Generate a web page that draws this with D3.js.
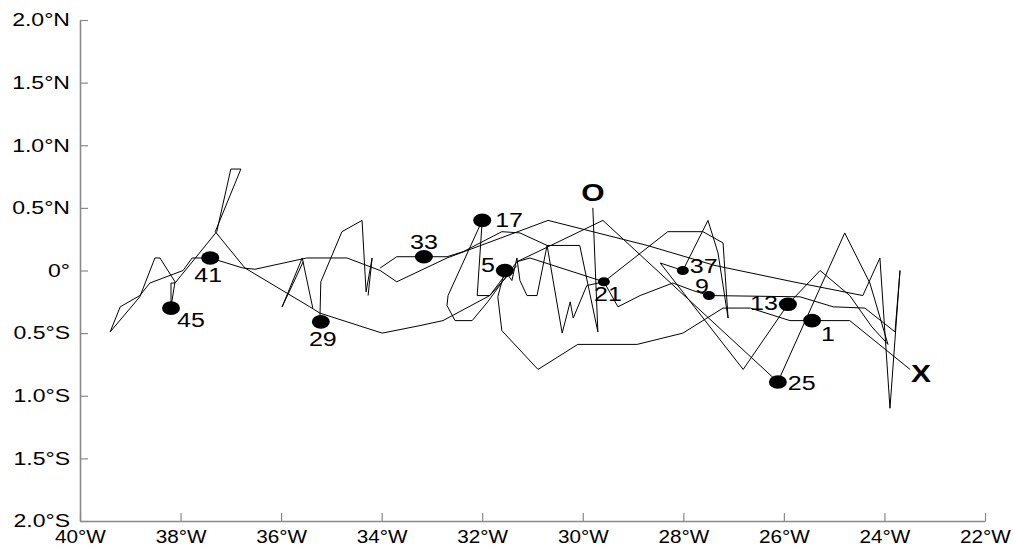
<!DOCTYPE html>
<html>
<head>
<meta charset="utf-8">
<script src="https://cdn.jsdelivr.net/npm/d3@7"></script>
<style>
  body { margin: 0; background: #fff; }
  svg { display: block; font-family: "Liberation Sans", Arial, Helvetica, sans-serif; }
</style>
</head>
<body>
<div id="chart"></div>
<script>
// drifter track, lon (deg E) / lat (deg N); null = pen up between traced pieces
const trackLon = [
  -23.49, -24.69, -25.44, -25.88, -26.67, -27.21, -28.01, -28.92, -30.10, -30.89, -31.61, -31.69,
  -31.55, -31.41, -31.31, -31.25, -31.11, -30.91, -30.71, -30.06, -29.70, -29.80, null,
  -30.71, -30.41, -30.25, -30.19, -29.92, -29.58, -28.31, -27.61, -27.21, -27.11, -27.31, -27.51,
  -28.01, -28.46, -26.81, -25.92, -25.28, -24.69, -24.25, -23.93, -24.29, -24.79, -26.12, -29.60,
  -31.31, null,
  -30.69, -28.72, -27.37, -25.82, -24.43, -24.09, -23.89, -23.69, -23.79, -24.39, -25.02, -25.68,
  -27.49, -27.81, -28.21, -28.86, -29.30, -29.58, -31.05, -31.31, null,
  -30.69, -32.70, -33.70, -34.03, -34.69, -35.49, -36.52, -36.76, -37.41, -37.77, -37.95, -38.61,
  -38.81, -39.20, -39.40, -38.81, -38.51, -38.41, -38.11, -38.19, -38.19, -38.11, -37.28, -37.00,
  -36.80, -37.31, -36.72, -35.43, -35.23, -33.99, -33.24, -32.78, -31.85, -31.31, null,
  -35.37, -35.58, -35.98, -35.56, null,
  -35.23, -35.21, -34.79, -34.39, -34.31, -34.19, -34.27, null,
  -34.03, -33.70, -33.16, -32.70, -32.38, -31.61, -31.25, -30.71, null,
  -31.55, -31.85, -32.10, -32.00, -32.68, -32.70, -32.54, -32.20, -31.89, -31.31
];
const trackLat = [
  -0.79, -0.40, -0.40, -0.40, -0.30, -0.30, -0.50, -0.59, -0.59, -0.79, -0.48, -0.21,
  0.00, -0.08, 0.10, -0.08, -0.20, -0.20, 0.20, 0.20, -0.49, 0.50, null,
  0.20, -0.50, -0.25, -0.38, -0.12, -0.09, 0.31, 0.31, 0.22, -0.38, 0.14, 0.40,
  0.00, 0.06, -0.79, -0.27, 0.00, -0.20, -0.45, -0.59, -0.10, 0.30, -0.89, 0.40,
  0.07, null,
  0.40, 0.20, 0.04, -0.09, -0.20, 0.10, -1.10, 0.00, -0.49, -0.30, -0.29, -0.21,
  -0.20, -0.16, -0.10, -0.20, -0.29, -0.09, 0.10, 0.07, null,
  0.40, 0.10, -0.09, 0.00, 0.10, 0.10, 0.01, 0.02, 0.10, 0.10, 0.00, -0.10,
  -0.20, -0.29, -0.49, -0.21, 0.10, 0.10, -0.09, -0.29, -0.10, -0.10, 0.31, 0.81,
  0.81, 0.31, 0.02, -0.29, -0.34, -0.50, -0.44, -0.40, -0.20, 0.04, null,
  -0.30, 0.10, -0.29, 0.07, null,
  -0.41, -0.09, 0.31, 0.40, -0.17, 0.10, -0.20, null,
  0.02, 0.11, 0.11, 0.11, 0.15, 0.31, 0.30, 0.20, null,
  -0.04, -0.20, -0.20, 0.40, -0.20, -0.28, -0.40, -0.40, -0.25, 0.07
];

// every 4th position is marked and numbered
const markerLabels = ["1", "5", "9", "13", "17", "21", "25", "29", "33", "37", "41", "45"];
const markerLon = [-25.44, -31.55, -27.49, -25.92, -32.00, -29.58, -26.12, -35.21, -33.16, -28.01, -37.41, -38.19];
const markerLat = [-0.40, 0.00, -0.20, -0.27, 0.40, -0.09, -0.89, -0.41, 0.11, 0.00, 0.10, -0.30];

// ends of the track
const endLabels = ["O", "X"];
const endLon = [-29.80, -23.49];
const endLat = [0.50, -0.79];

const xTicks = [-40, -38, -36, -34, -32, -30, -28, -26, -24, -22];
const xTickLabels = ["40°W", "38°W", "36°W", "34°W", "32°W", "30°W", "28°W", "26°W", "24°W", "22°W"];
const yTicks = [-2, -1.5, -1, -0.5, 0, 0.5, 1, 1.5, 2];
const yTickLabels = ["2.0°S", "1.5°S", "1.0°S", "0.5°S", "0°", "0.5°N", "1.0°N", "1.5°N", "2.0°N"];

// label placement around each marker (style only)
var labelPos = {
  "1":  {dx: 9,   dy: 20, anchor: "start"},
  "5":  {dx: -10, dy: 1,  anchor: "end"},
  "9":  {dx: -7,  dy: -3, anchor: "middle"},
  "13": {dx: -10, dy: 6,  anchor: "end"},
  "17": {dx: 13,  dy: 7,  anchor: "start"},
  "21": {dx: 4,   dy: 19, anchor: "middle"},
  "25": {dx: 10,  dy: 8,  anchor: "start"},
  "29": {dx: 2,   dy: 24, anchor: "middle"},
  "33": {dx: 0,   dy: -8, anchor: "middle"},
  "37": {dx: 7,   dy: 2,  anchor: "start"},
  "41": {dx: -2,  dy: 24, anchor: "middle"},
  "45": {dx: 6,   dy: 19, anchor: "start"}
};
var smallMarkers = ["9", "21", "37"];
var stretch = 1.25; // the original figure is drawn a bit wide

var margin = {top: 20, right: 28, bottom: 27, left: 80};
var width = 1013 - margin.left - margin.right;
var height = 548 - margin.top - margin.bottom;

var xScale = d3.scaleLinear().domain([-40, -22]).range([0, width]);
var yScale = d3.scaleLinear().domain([-2, 2]).range([height, 0]);

var svg = d3.select("#chart")
  .append("svg")
  .attr("width", width + margin.left + margin.right)
  .attr("height", height + margin.top + margin.bottom)
  .append("g")
  .attr("transform", "translate(" + margin.left + "," + margin.top + ")");

// axes: ticks point into the plot
var yAxis = d3.axisLeft(yScale)
  .tickValues(yTicks)
  .tickFormat(function(d, i) { return yTickLabels[i]; })
  .tickSizeInner(-8).tickSizeOuter(0).tickPadding(10);
var xAxis = d3.axisBottom(xScale)
  .tickValues(xTicks)
  .tickFormat(function(d, i) { return xTickLabels[i]; })
  .tickSizeInner(-8).tickSizeOuter(0).tickPadding(9);

var gy = svg.append("g").call(yAxis);
var gx = svg.append("g").attr("transform", "translate(0," + height + ")").call(xAxis);

[gy, gx].forEach(function(g) {
  g.select(".domain").attr("stroke", "#8a8a8a").attr("stroke-width", 1.6);
  g.selectAll(".tick line").attr("stroke", "#8a8a8a").attr("stroke-width", 1.2);
  g.selectAll("text").attr("fill", "#000").attr("font-family", null);
});
gy.selectAll("text")
  .attr("font-size", 18)
  .attr("x", -10 / 1.28)
  .attr("transform", "scale(1.28,1)");
gx.selectAll("text")
  .attr("font-size", 18)
  .attr("transform", "scale(1.15,1)");

// the track
var points = trackLon.map(function(lon, i) { return {lon: lon, lat: trackLat[i]}; });
var line = d3.line()
  .defined(function(d) { return d.lon != null && d.lat != null; })
  .x(function(d) { return xScale(d.lon); })
  .y(function(d) { return yScale(d.lat); });

svg.append("path")
  .datum(points)
  .attr("d", line)
  .attr("fill", "none")
  .attr("stroke", "#000")
  .attr("stroke-width", 1)
  .attr("stroke-linejoin", "miter");

// numbered markers
var markers = markerLabels.map(function(l, i) { return {label: l, lon: markerLon[i], lat: markerLat[i]}; });

svg.selectAll(".marker")
  .data(markers)
  .enter().append("ellipse")
  .attr("class", "marker")
  .attr("cx", function(d) { return xScale(d.lon); })
  .attr("cy", function(d) { return yScale(d.lat); })
  .attr("rx", function(d) { return smallMarkers.indexOf(d.label) >= 0 ? 6 : 9; })
  .attr("ry", function(d) { return smallMarkers.indexOf(d.label) >= 0 ? 4.5 : 6.8; })
  .attr("fill", "#000");

svg.selectAll(".mlabel")
  .data(markers)
  .enter().append("text")
  .attr("class", "mlabel")
  .attr("transform", function(d) {
    var p = labelPos[d.label];
    return "translate(" + (xScale(d.lon) + p.dx) + "," + (yScale(d.lat) + p.dy) + ") scale(" + stretch + ",1)";
  })
  .attr("text-anchor", function(d) { return labelPos[d.label].anchor; })
  .attr("font-size", 20)
  .text(function(d) { return d.label; });

// start / end letters
var ends = endLabels.map(function(l, i) { return {label: l, lon: endLon[i], lat: endLat[i]}; });
svg.selectAll(".elabel")
  .data(ends)
  .enter().append("text")
  .attr("class", "elabel")
  .attr("transform", function(d) {
    var x = xScale(d.lon), y = yScale(d.lat);
    if (d.label == "O") return "translate(" + x + "," + (y - 7) + ") scale(" + stretch + ",1)";
    return "translate(" + (x + 1) + "," + (y + 13) + ") scale(" + stretch + ",1)";
  })
  .attr("text-anchor", function(d) { return d.label == "O" ? "middle" : "start"; })
  .attr("font-size", 24)
  .attr("font-weight", "bold")
  .text(function(d) { return d.label; });
</script>
</body>
</html>
